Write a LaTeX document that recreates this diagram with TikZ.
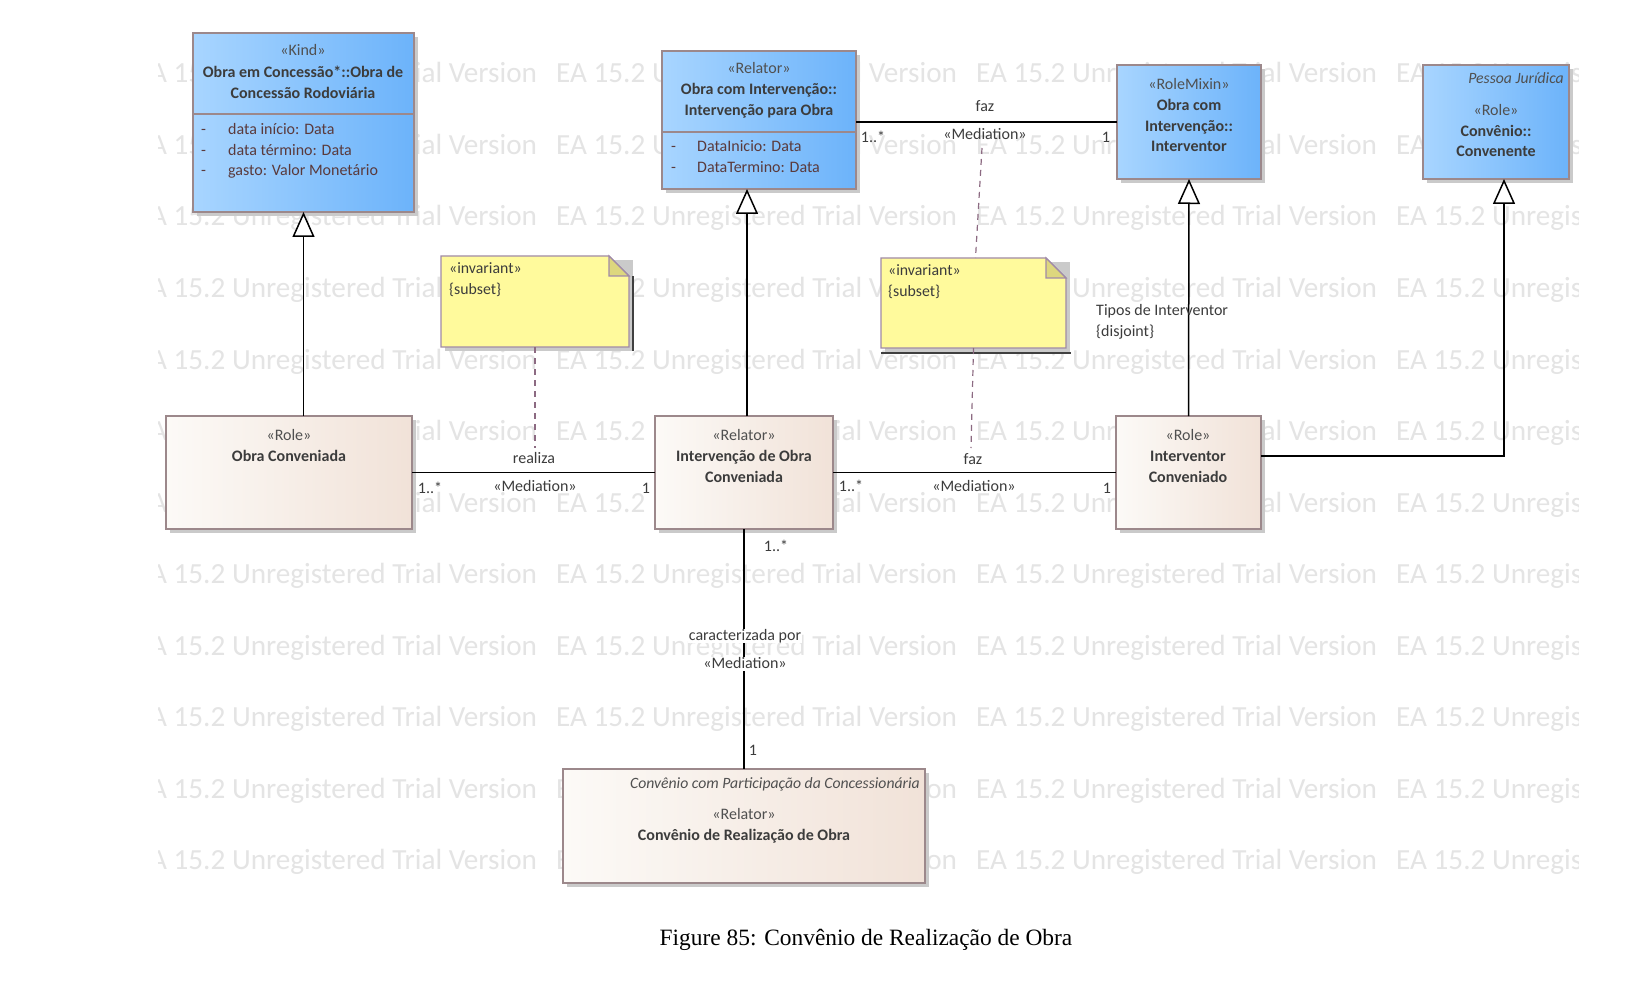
\documentclass[tikz,border=0pt]{standalone}
\usepackage{fontspec}
\setmainfont{Carlito}
\newfontfamily\capfont{Liberation Serif}
\usetikzlibrary{arrows.meta,calc}

\definecolor{wm}{HTML}{E4E4E4}
\definecolor{bord}{HTML}{9C888B}
\definecolor{blueL}{HTML}{A8D5FF}
\definecolor{blueR}{HTML}{6CB3FA}
\definecolor{beigeL}{HTML}{FCFAF7}
\definecolor{beigeR}{HTML}{F1E2D8}
\definecolor{noteY}{HTML}{FFFA9C}
\definecolor{noteF}{HTML}{DDD77E}
\definecolor{noteB}{HTML}{A08AA8}
\definecolor{dashc}{HTML}{8C6A82}
\definecolor{txt}{HTML}{3C3C3C}
\definecolor{sttxt}{HTML}{505050}
\definecolor{attr}{HTML}{5A3A3C}
\definecolor{shd}{HTML}{CACACA}

\tikzset{
  x=1pt, y=-1pt,
  bluebox/.style={draw=bord, line width=1.5pt, left color=blueL, right color=blueR,
    anchor=north west, inner sep=0pt, outer sep=0pt},
  beigebox/.style={draw=bord, line width=1.5pt, left color=beigeL, right color=beigeR,
    anchor=north west, inner sep=0pt, outer sep=0pt},
  notearea/.style={anchor=north west, inner sep=0pt, outer sep=0pt},
  notepath/.style={draw=noteB, line width=1.3pt, fill=noteY},
  basetext/.style={inner sep=0pt, text height=11pt, text depth=3pt},
  stt/.style={basetext, text=sttxt, font=\fontsize{16}{19}\selectfont},
  ttl/.style={basetext, text=txt, font=\bfseries\fontsize{16}{19}\selectfont},
  att/.style={basetext, text=attr, anchor=west, font=\fontsize{16}{19}\selectfont},
  itl/.style={basetext, text=sttxt, anchor=east, font=\itshape\fontsize{15.7}{19}\selectfont},
  lbl/.style={basetext, text=txt, font=\fontsize{16}{19}\selectfont},
  notetext/.style={basetext, text=txt, anchor=west, font=\fontsize{15.8}{19}\selectfont},
  wmark/.style={inner sep=0pt, text=wm, anchor=base west, font=\fontsize{29.2}{31}\selectfont},
  conn/.style={draw=black, line width=1.5pt},
  gen/.style={conn, -{Triangle[length=25pt, width=22pt, fill=white, line width=1.5pt]}},
  notelink/.style={draw=dashc, line width=1.2pt, dash pattern=on 6pt off 5pt},
}

% shadowed class box: style, name, x, y, width, height
\newcommand\umlbox[6]{%
  \fill[shd] (#3+4,#4+4) rectangle (#3+#5+4,#4+#6+4);
  \node[#1, minimum width=#5, minimum height=#6] (#2) at (#3,#4) {};
}

% note with folded corner: name, x, y, width, height
\newcommand\umlnote[5]{%
  \fill[shd] (#2+4,#3+4) rectangle (#2+#4+4,#3+#5+4);
  \node[notearea, minimum width=#4, minimum height=#5] (#1) at (#2,#3) {};
  \path[notepath] (#1.north west) -- ([xshift=-20pt]#1.north east)
    -- ([yshift=-20pt]#1.north east) -- (#1.south east) -- (#1.south west) -- cycle;
  \path[fill=noteF, draw=noteB, line width=1.1pt] ([xshift=-20pt]#1.north east)
    -- ([xshift=-20pt,yshift=-20pt]#1.north east) -- ([yshift=-20pt]#1.north east) -- cycle;
}

\begin{document}
\begin{tikzpicture}
\useasboundingbox (0,0) rectangle (1652,984);
\fill[white] (0,0) rectangle (1652,984);

% trial-version watermark
\begin{scope}
  \clip (158,40) rectangle (1578,880);
  \foreach \r in {0,...,11} {
    \foreach \c in {0,...,3} {
      \node[wmark] (wm-\r-\c) at (136+420*\c, 83+71.5*\r) {EA 15.2 Unregistered Trial Version};
    }
  }
\end{scope}

% ---------- top row ----------
\umlbox{bluebox}{kind}{193}{33}{221}{179}
\draw[bord, line width=1.5pt] (kind.west |- 0,114) -- (kind.east |- 0,114);
\node[stt] (kind-s) at (303,52) {«Kind»};
\node[ttl] (kind-t1) at (303,74) {Obra em Concessão*::Obra de};
\node[ttl] (kind-t2) at (303,95) {Concessão Rodoviária};
\node[att] (kind-d1) at (201,131) {-};
\node[att] (kind-a1) at (228,131) {data início: Data};
\node[att] (kind-d2) at (201,152) {-};
\node[att] (kind-a2) at (228,152) {data término: Data};
\node[att] (kind-d3) at (201,172) {-};
\node[att] (kind-a3) at (228,172) {gasto: Valor Monetário};

\umlbox{bluebox}{rel}{662}{51}{194}{138}
\draw[bord, line width=1.5pt] (rel.west |- 0,132) -- (rel.east |- 0,132);
\node[stt] (rel-s) at (759,70) {«Relator»};
\node[ttl] (rel-t1) at (759,91) {Obra com Intervenção::};
\node[ttl] (rel-t2) at (759,112) {Intervenção para Obra};
\node[att] (rel-d1) at (671,148) {-};
\node[att] (rel-a1) at (697,148) {DataInicio: Data};
\node[att] (rel-d2) at (671,169) {-};
\node[att] (rel-a2) at (697,169) {DataTermino: Data};

\umlbox{bluebox}{mixin}{1117}{65}{144}{114}
\node[stt] (mixin-s) at (1189,86) {«RoleMixin»};
\node[ttl] (mixin-t1) at (1189,107) {Obra com};
\node[ttl] (mixin-t2) at (1189,128) {Intervenção::};
\node[ttl] (mixin-t3) at (1189,148) {Interventor};

\umlbox{bluebox}{conv}{1423}{65}{146}{114}
\node[itl] (conv-p) at (1564,80) {Pessoa Jurídica};
\node[stt] (conv-s) at (1496,112) {«Role»};
\node[ttl] (conv-t1) at (1496,133) {Convênio::};
\node[ttl] (conv-t2) at (1496,153) {Convenente};

% ---------- notes ----------
\umlnote{note1}{441}{256}{188}{91}
\draw[black!75, line width=1.3pt] (633,276) -- (633,351);
\node[notetext] (note1-s) at (449,270) {«invariant»};
\node[notetext] (note1-c) at (449,291) {\{subset\}};

\umlnote{note2}{881}{258}{185}{90}
\draw[black!75, line width=1.3pt] (881,353) -- (1071,353);
\node[notetext] (note2-s) at (888,272) {«invariant»};
\node[notetext] (note2-c) at (888,293) {\{subset\}};

% ---------- middle row ----------
\umlbox{beigebox}{obra}{166}{416}{246}{113}
\node[stt] (obra-s) at (289,436) {«Role»};
\node[ttl] (obra-t1) at (289,457) {Obra Conveniada};

\umlbox{beigebox}{interv}{655}{416}{178}{113}
\node[stt] (interv-s) at (744,436) {«Relator»};
\node[ttl] (interv-t1) at (744,457) {Intervenção de Obra};
\node[ttl] (interv-t2) at (744,478) {Conveniada};

\umlbox{beigebox}{iconv}{1116}{416}{145}{113}
\node[stt] (iconv-s) at (1188,436) {«Role»};
\node[ttl] (iconv-t1) at (1188,457) {Interventor};
\node[ttl] (iconv-t2) at (1188,478) {Conveniado};

% ---------- bottom ----------
\umlbox{beigebox}{real}{563}{769}{362}{114}
\node[itl] (real-p) at (920,784) {Convênio com Participação da Concessionária};
\node[stt] (real-s) at (744,815) {«Relator»};
\node[ttl] (real-t1) at (744,836) {Convênio de Realização de Obra};

% ---------- generalizations ----------
\draw[gen] (kind.south |- obra.north) -- (kind.south);
\draw[gen] ([xshift=3pt]interv.north) -- ([xshift=3pt]interv.north |- rel.south);
\draw[gen] (iconv.north) -- (mixin.south);
\draw[gen] ([yshift=16.5pt]iconv.east) -| ([xshift=8pt]conv.south);
\node[lbl, anchor=west] (gs-1) at (1096,312) {Tipos de Interventor};
\node[lbl, anchor=west] (gs-2) at (1096,333) {\{disjoint\}};

% ---------- mediations ----------
\draw[conn] (mixin.west) -- (mixin.west -| rel.east);
\node[lbl] (m1-n) at (985,108) {faz};
\node[lbl] (m1-s) at (985,136) {«Mediation»};
\node[lbl] (m1-a) at (873,139) {1..*};
\node[lbl] (m1-b) at (1106,139) {1};

\draw[conn] (obra.east) -- (interv.west);
\node[lbl] (m2-n) at (534,459) {realiza};
\node[lbl] (m2-s) at (535,487) {«Mediation»};
\node[lbl] (m2-a) at (430,489) {1..*};
\node[lbl] (m2-b) at (646,489) {1};

\draw[conn] (interv.east) -- (iconv.west);
\node[lbl] (m3-n) at (973,460) {faz};
\node[lbl] (m3-s) at (974,487) {«Mediation»};
\node[lbl] (m3-a) at (851,487) {1..*};
\node[lbl] (m3-b) at (1107,489) {1};

\draw[conn] (interv.south) -- (real.north);
\node[lbl, fill=white, inner xsep=1pt] (m4-n) at (745,636) {caracterizada por};
\node[lbl, fill=white, inner xsep=1pt] (m4-s) at (745,664) {«Mediation»};
\node[lbl] (m4-a) at (776,547) {1..*};
\node[lbl] (m4-b) at (753,751) {1};

% ---------- note links ----------
\coordinate (n1e) at (535,448);
\coordinate (n2a) at (982,148);
\coordinate (n2e) at (971,448);
\draw[notelink] (note1.south) -- (n1e);
\draw[notelink] (n2a) -- ([xshift=2pt]note2.north);
\draw[notelink] (note2.south) -- (n2e);

% caption
\node[inner sep=0pt, font=\capfont\fontsize{23.4}{28}\selectfont] (caption) at (866,940)
  {Figure 85: Convênio de Realização de Obra};
\end{tikzpicture}
\end{document}
